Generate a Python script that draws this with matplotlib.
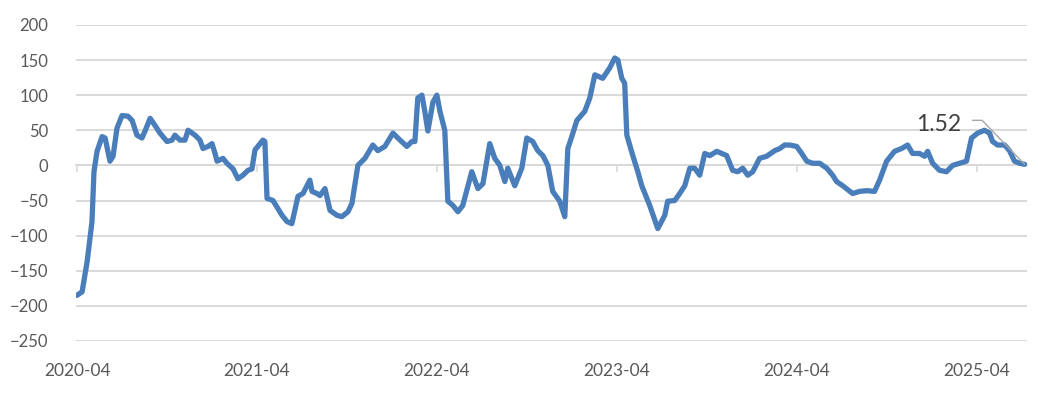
import numpy as np
import matplotlib
matplotlib.use("Agg")
import matplotlib.pyplot as plt
import matplotlib.transforms as mtransforms

plt.rcParams["font.family"] = ["Lato", "DejaVu Sans"]

# time in decimal years (2020.25 = 2020-04)
t = [
    2020.250, 2020.278, 2020.306, 2020.333, 2020.344, 2020.361, 2020.389, 2020.406,
    2020.433, 2020.450, 2020.472, 2020.500, 2020.533, 2020.556, 2020.583, 2020.611,
    2020.628, 2020.656, 2020.683, 2020.711, 2020.750, 2020.778, 2020.794, 2020.822,
    2020.850, 2020.867, 2020.906, 2020.933, 2020.950, 2020.978, 2021.000, 2021.017,
    2021.028, 2021.061, 2021.083, 2021.100, 2021.117, 2021.144, 2021.172, 2021.200,
    2021.222, 2021.239, 2021.283, 2021.294, 2021.306, 2021.339, 2021.389, 2021.417,
    2021.444, 2021.478, 2021.506, 2021.544, 2021.556, 2021.583, 2021.600, 2021.628,
    2021.656, 2021.694, 2021.722, 2021.756, 2021.778, 2021.811, 2021.850, 2021.894,
    2021.922, 2021.961, 2022.006, 2022.033, 2022.083, 2022.111, 2022.128, 2022.144,
    2022.167, 2022.183, 2022.200, 2022.228, 2022.250, 2022.267, 2022.294, 2022.311,
    2022.339, 2022.367, 2022.394, 2022.444, 2022.478, 2022.506, 2022.544, 2022.572,
    2022.600, 2022.628, 2022.644, 2022.683, 2022.722, 2022.750, 2022.783, 2022.811,
    2022.839, 2022.867, 2022.894, 2022.922, 2022.933, 2022.961, 2022.978, 2023.000,
    2023.028, 2023.072, 2023.100, 2023.128, 2023.172, 2023.211, 2023.239, 2023.256,
    2023.278, 2023.294, 2023.306, 2023.339, 2023.367, 2023.389, 2023.433, 2023.478,
    2023.517, 2023.533, 2023.572, 2023.600, 2023.628, 2023.656, 2023.683, 2023.711,
    2023.739, 2023.767, 2023.806, 2023.833, 2023.861, 2023.894, 2023.922, 2023.950,
    2023.978, 2024.006, 2024.044, 2024.083, 2024.128, 2024.156, 2024.183, 2024.211,
    2024.250, 2024.278, 2024.306, 2024.339, 2024.378, 2024.417, 2024.450, 2024.472,
    2024.506, 2024.561, 2024.600, 2024.639, 2024.683, 2024.711, 2024.750, 2024.794,
    2024.833, 2024.867, 2024.894, 2024.933, 2024.961, 2024.978, 2025.006, 2025.044,
    2025.083, 2025.117, 2025.156, 2025.194, 2025.222, 2025.256, 2025.294, 2025.322,
    2025.339, 2025.367, 2025.406, 2025.433, 2025.461, 2025.489, 2025.517,
]
values = [
    -185, -180, -137, -80, -9, 20, 41, 39,
    6, 13, 53, 71, 70, 64, 43, 39,
    49, 67, 57, 46, 34, 36, 43, 36,
    36, 50, 43, 36, 24, 27, 31, 17,
    6, 10, 3, -1, -5, -19, -14, -7,
    -5, 22, 36, 34, -47, -50, -71, -80,
    -83, -44, -40, -21, -37, -40, -43, -33,
    -64, -71, -73, -66, -54, 0, 10, 29,
    21, 27, 46, 39, 27, 34, 34, 96,
    100, 77, 49, 90, 100, 77, 50, -51,
    -57, -66, -57, -9, -33, -26, 31, 10,
    0, -23, -4, -29, -4, 39, 34, 21,
    14, 0, -37, -47, -51, -73, 24, 41,
    64, 77, 96, 129, 124, 139, 153, 150,
    124, 117, 43, 14, -9, -29, -57, -90,
    -71, -51, -50, -40, -29, -4, -4, -14,
    17, 14, 20, 17, 14, -7, -9, -4,
    -14, -9, 10, 13, 21, 24, 29, 29,
    27, 17, 6, 3, 3, -4, -14, -23,
    -29, -40, -37, -36, -37, -21, 6, 20,
    24, 29, 17, 17, 13, 20, 3, -7,
    -9, 0, 3, 6, 39, 46, 50, 46,
    34, 29, 29, 21, 6, 3, 1.52,
]

tick_pos = [2020.25, 2021.25, 2022.25, 2023.25, 2024.25, 2025.25]
tick_labels = ["2020-04", "2021-04", "2022-04", "2023-04", "2024-04", "2025-04"]
y_ticks = [200, 150, 100, 50, 0, -50, -100, -150, -200, -250]

line_color = "#4A7EBB"
grid_color = "#D9D9D9"
text_color = "#595959"

fig = plt.figure(figsize=(10.38, 3.96), dpi=100)
ax = fig.add_axes([0.0732, 0.139, 0.9158, 0.798])

for yv in y_ticks:
    ax.axhline(yv, color=grid_color, lw=1.4, zorder=0)

ax.plot(t, values, color=line_color, lw=3.8, solid_joinstyle="round",
        solid_capstyle="round", zorder=3)

ax.set_xlim(2020.244, 2025.528)
ax.set_ylim(-250, 200)
ax.set_yticks(y_ticks)
ax.tick_params(axis="y", length=0, pad=20, labelsize=12, labelcolor=text_color)

# category axis sits on the zero line, labels at the bottom
for s in ["left", "right", "top"]:
    ax.spines[s].set_visible(False)
ax.spines["bottom"].set_position(("data", 0))
ax.spines["bottom"].set_color(grid_color)
ax.spines["bottom"].set_linewidth(1.4)
ax.set_xticks(tick_pos)
ax.tick_params(axis="x", direction="out", length=5, width=1.2, color=grid_color,
               labelbottom=False)

trans = mtransforms.blended_transform_factory(ax.transData, ax.transAxes)
for pos, lab in zip(tick_pos, tick_labels):
    ax.text(pos, -0.095, lab, transform=trans, ha="center", va="center",
            fontsize=12.5, color=text_color)

# data label on the last point
ax.annotate("", xy=(t[-1], values[-1]), xytext=(-52, 44), textcoords="offset pixels",
            arrowprops=dict(arrowstyle="-", color="#A6A6A6", lw=1,
                            connectionstyle="angle,angleA=0,angleB=134,rad=0",
                            shrinkA=0, shrinkB=0))
ax.annotate(f"{values[-1]:.2f}", xy=(t[-1], values[-1]), xytext=(-63, 40),
            textcoords="offset pixels", ha="right", va="center",
            fontsize=16.5, color="#404040")

fig.savefig("out.png", dpi=100)
